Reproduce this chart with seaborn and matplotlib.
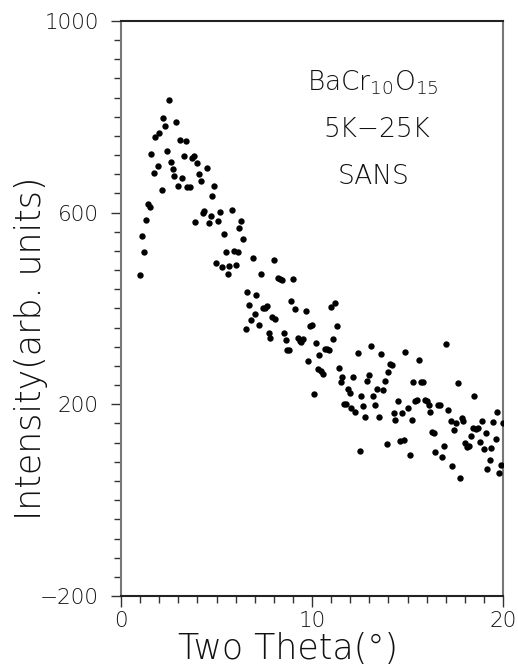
import matplotlib
matplotlib.use("Agg")
import matplotlib.pyplot as plt
from matplotlib import font_manager as fm
from matplotlib.ticker import MultipleLocator, FixedLocator
import seaborn as sns
import pandas as pd

# ---------------- data ----------------
two_theta = [
    1.01, 1.11, 1.22, 1.32, 1.41, 1.50, 1.59, 1.71, 1.79, 1.92,
    2.00, 2.13, 2.20, 2.30, 2.40, 2.51, 2.61, 2.72, 2.80, 2.89,
    2.98, 3.08, 3.19, 3.28, 3.40, 3.48, 3.59, 3.71, 3.80, 3.90,
    3.99, 4.09, 4.18, 4.27, 4.37, 4.49, 4.60, 4.69, 4.79, 4.88,
    4.98, 5.09, 5.19, 5.28, 5.38, 5.49, 5.59, 5.68, 5.80, 5.89,
    6.00, 6.10, 6.18, 6.29, 6.41, 6.52, 6.60, 6.69, 6.79, 6.90,
    7.00, 7.09, 7.20, 7.32, 7.42, 7.54, 7.63, 7.74, 7.82, 7.93,
    8.01, 8.08, 8.20, 8.34, 8.45, 8.55, 8.66, 8.71, 8.82, 8.92,
    9.02, 9.13, 9.25, 9.36, 9.44, 9.53, 9.69, 9.79, 9.91, 10.02,
    10.09, 10.21, 10.30, 10.38, 10.49, 10.59, 10.68, 10.80, 10.89, 10.98,
    11.08, 11.18, 11.29, 11.39, 11.50, 11.59, 11.67, 11.76, 11.86, 11.97,
    12.06, 12.16, 12.26, 12.39, 12.49, 12.58, 12.67, 12.77, 12.87, 12.96,
    13.08, 13.19, 13.29, 13.38, 13.50, 13.61, 13.69, 13.80, 13.90, 13.97,
    14.08, 14.18, 14.29, 14.37, 14.48, 14.58, 14.69, 14.81, 14.88, 15.00,
    15.13, 15.21, 15.30, 15.38, 15.47, 15.59, 15.68, 15.82, 15.91, 16.01,
    16.11, 16.20, 16.29, 16.38, 16.43, 16.57, 16.69, 16.78, 16.90, 17.02,
    17.13, 17.25, 17.32, 17.42, 17.53, 17.63, 17.74, 17.84, 17.93, 18.03,
    18.10, 18.21, 18.31, 18.41, 18.50, 18.57, 18.69, 18.80, 18.89, 18.98,
    19.09, 19.18, 19.30, 19.39, 19.49, 19.62, 19.70, 19.77, 19.91, 20.00,
]
intensity = [
    469, 551, 517, 584, 618, 611, 722, 682, 757, 697,
    766, 647, 798, 781, 728, 836, 705, 692, 676, 790,
    656, 752, 673, 718, 749, 654, 653, 715, 718, 581,
    704, 681, 666, 600, 603, 694, 579, 594, 634, 655,
    494, 583, 601, 487, 556, 518, 472, 488, 606, 519,
    490, 518, 567, 583, 546, 358, 434, 408, 377, 505,
    389, 428, 365, 472, 400, 401, 405, 349, 338, 383,
    502, 378, 463, 461, 459, 349, 334, 314, 314, 415,
    461, 399, 339, 332, 331, 337, 395, 290, 364, 366,
    221, 329, 273, 302, 270, 264, 315, 316, 314, 404,
    337, 412, 364, 275, 247, 257, 200, 201, 231, 223,
    192, 257, 184, 307, 103, 218, 196, 174, 248, 262,
    321, 217, 199, 233, 173, 305, 229, 248, 118, 267,
    284, 282, 182, 168, 206, 123, 182, 126, 309, 193,
    95, 168, 246, 206, 208, 292, 246, 246, 209, 207,
    199, 184, 143, 141, 100, 198, 198, 90, 112, 325,
    188, 166, 72, 146, 161, 244, 47, 171, 166, 119,
    110, 114, 133, 150, 217, 149, 150, 121, 166, 107,
    141, 64, 84, 108, 163, 127, 184, 56, 73, 162,
]
y_major = [-200, 200, 600, 1000]
x_major = [0, 10, 20]
annotations = ["BaCr$\\mathregular{_{10}}$O$\\mathregular{_{15}}$", "5K\u221225K", "SANS"]
x_title = "Two Theta(\u00b0)"
y_title = "Intensity(arb. units)"

# ---------------- font choice: a light sans ----------------
def pick_font():
    cands = [("DejaVu Sans", 200), ("Lato", 300), ("Roboto", 300), ("Open Sans", 300)]
    for fam, wmax in cands:
        for f in fm.fontManager.ttflist:
            w = f.weight if isinstance(f.weight, int) else fm.weight_dict.get(f.weight, 400)
            if f.name == fam and w <= wmax and f.style == "normal":
                return fam, w
    return "DejaVu Sans", 400

FAM, WGT = pick_font()

sns.set_style("ticks")
plt.rcParams["font.family"] = [FAM, "DejaVu Sans"]
plt.rcParams["font.weight"] = WGT
plt.rcParams["axes.labelweight"] = WGT
TXT = "#111111"

df = pd.DataFrame({"two_theta": two_theta, "intensity": intensity})

fig = plt.figure(figsize=(5.18, 6.66), dpi=100)
ax = fig.add_axes([0.2336, 0.1051, 0.7375, 0.8634])

sns.scatterplot(data=df, x="two_theta", y="intensity", ax=ax,
                s=21, color="black", linewidth=0, legend=False, zorder=3)

ax.set_xlim(0, 20)
ax.set_ylim(-200, 1000)
ax.xaxis.set_major_locator(FixedLocator(x_major))
ax.xaxis.set_minor_locator(MultipleLocator(1))
ax.yaxis.set_major_locator(FixedLocator(y_major))
ax.yaxis.set_minor_locator(MultipleLocator(40))

ax.tick_params(axis="both", which="major", direction="out", labelsize=15.5,
               labelcolor=TXT, color="#333333", width=1.0)
ax.tick_params(axis="x", which="major", length=8, pad=3)
ax.tick_params(axis="y", which="major", length=7.5, pad=8.5)
ax.tick_params(axis="both", which="minor", direction="out", length=5.2,
               color="#333333", width=1.0)
ax.tick_params(top=False, right=False, which="both")
for lab in ax.get_xticklabels() + ax.get_yticklabels():
    lab.set_fontweight(WGT)

for side, col in [("left", "#777777"), ("right", "#777777"),
                  ("top", "#222222"), ("bottom", "#222222")]:
    ax.spines[side].set_visible(True)
    ax.spines[side].set_color(col)
    ax.spines[side].set_linewidth(1.5)

ax.set_xlabel(x_title, fontsize=25, color=TXT, fontweight=WGT)
ax.set_ylabel(y_title, fontsize=25, color=TXT, fontweight=WGT)
ax.xaxis.set_label_coords(0.437, -0.062)
ax.yaxis.set_label_coords(-0.192, 0.431)

for txt, xa, ya in zip(annotations, [0.660, 0.669, 0.662], [0.892, 0.812, 0.730]):
    ax.text(xa, ya, txt, transform=ax.transAxes, ha="center", va="center",
            fontsize=19, color=TXT, fontweight=WGT)

fig.savefig("out.png", dpi=100)
